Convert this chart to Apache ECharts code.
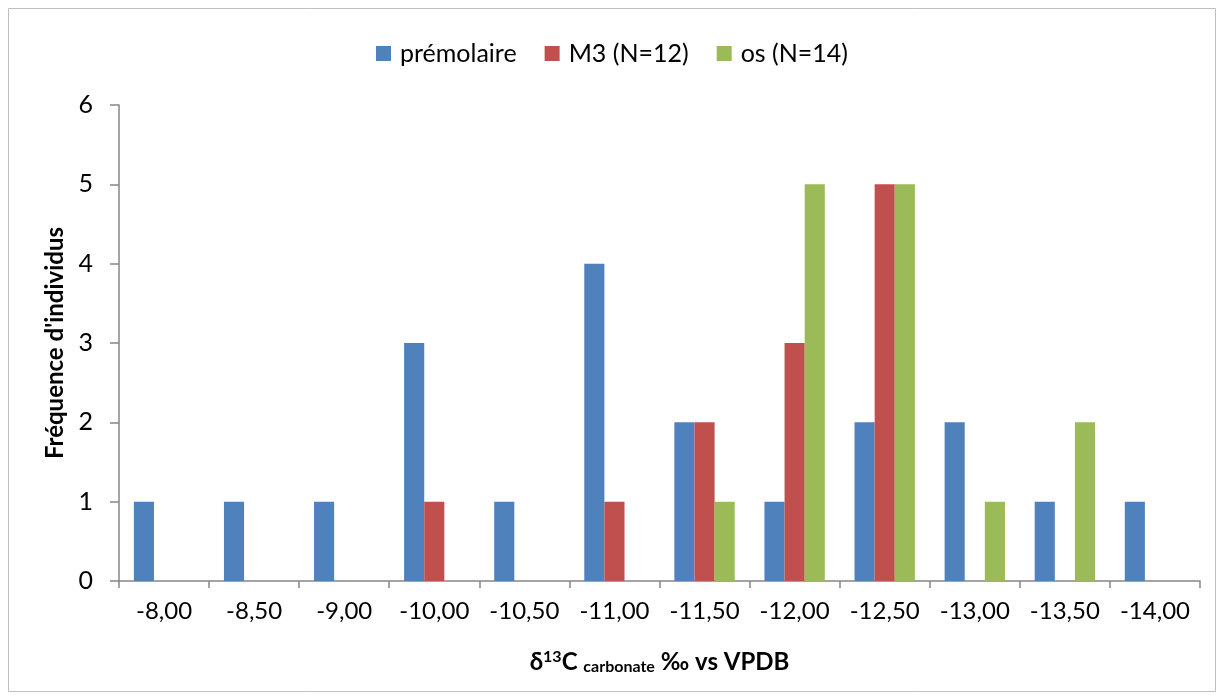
<!DOCTYPE html>
<html><head><meta charset="utf-8">
<script src="https://cdn.jsdelivr.net/npm/echarts@6/dist/echarts.min.js"></script>
<style>html,body{margin:0;padding:0;background:#fff}#c{width:1224px;height:700px}</style>
</head><body><div id="c"></div>
<script>
const categories = ['-8,00','-8,50','-9,00','-10,00','-10,50','-11,00','-11,50','-12,00','-12,50','-13,00','-13,50','-14,00'];
const premolaire = [1,1,1,3,1,4,2,1,2,2,1,1];
const m3 = [0,0,0,1,0,1,2,3,5,0,0,0];
const os = [0,0,0,0,0,0,1,5,5,1,2,0];
const yTicks = [0,1,2,3,4,5,6];
const seriesNames = ['prémolaire','M3 (N=12)','os (N=14)'];

const font = 'Lato, "Open Sans", sans-serif';
const FS = 25;
const chart = echarts.init(document.getElementById('c'));
const mk = (name, data, color) => ({
  name, type: 'bar', data: data.map(v => v === 0 ? null : v), barGap: '0%', barCategoryGap: '33%',
  itemStyle: { color }
});
chart.setOption({
  animation: false,
  textStyle: { fontFamily: font },
  graphic: [{ type: 'rect', shape: { x: 8.5, y: 8.5, width: 1207, height: 683 },
    style: { fill: 'none', stroke: '#bfbfbf', lineWidth: 1 } }],
  legend: {
    top: 36, left: 'center', itemWidth: 15, itemHeight: 15, itemGap: 28,
    icon: 'rect', textStyle: { fontSize: FS, color: '#000', fontFamily: font, padding: [0,0,0,4] },
    data: seriesNames
  },
  grid: { left: 119, right: 24, top: 105, bottom: 119, containLabel: false },
  xAxis: {
    type: 'category', data: categories,
    axisLine: { lineStyle: { color: '#868686', width: 1.5 } },
    axisTick: { show: true, interval: 0, length: 7, alignWithLabel: false, lineStyle: { color: '#868686', width: 1.5 } },
    axisLabel: { interval: 0, hideOverlap: false, fontSize: 24, color: '#000', margin: 18, fontFamily: font },
    name: '{b|δ}{sup|13}{b|C }{sub|carbonate}{b| ‰ vs VPDB}',
    nameLocation: 'middle', nameGap: 68,
    nameTextStyle: {
      rich: {
        b: { fontSize: 24, fontWeight: 'bold', color: '#000', fontFamily: font },
        sup: { fontSize: 16, fontWeight: 'bold', color: '#000', verticalAlign: 'top', padding: [0,0,10,0], fontFamily: font },
        sub: { fontSize: 16, fontWeight: 'bold', color: '#000', padding: [10,0,0,0], fontFamily: font }
      }
    }
  },
  yAxis: {
    type: 'value', min: 0, max: 6, interval: 1,
    axisLine: { show: true, lineStyle: { color: '#868686', width: 1.5 } },
    axisTick: { show: true, length: 9, lineStyle: { color: '#868686', width: 1.5 } },
    splitLine: { show: false },
    axisLabel: { fontSize: FS, color: '#000', margin: 26, fontFamily: font,
      formatter: v => yTicks.includes(v) ? String(v) : '' },
    name: "Fréquence d'individus", nameLocation: 'middle', nameGap: 48,
    nameTextStyle: { fontSize: 24, fontWeight: 'bold', color: '#000', fontFamily: font }
  },
  series: [
    mk(seriesNames[0], premolaire, '#4F81BD'),
    mk(seriesNames[1], m3, '#C0504D'),
    mk(seriesNames[2], os, '#9BBB59')
  ]
});
</script></body></html>
